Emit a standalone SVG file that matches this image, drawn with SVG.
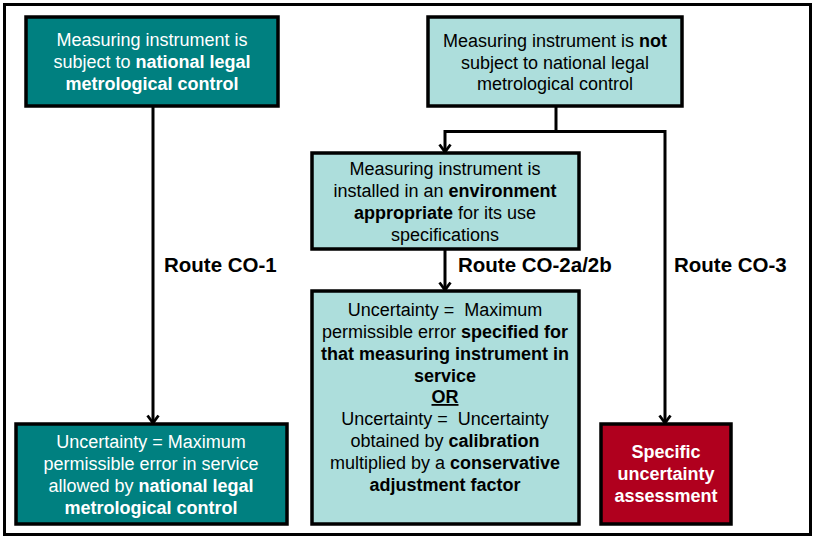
<svg xmlns="http://www.w3.org/2000/svg" width="815" height="540" viewBox="0 0 815 540">
<defs>
<marker id="arr" markerUnits="userSpaceOnUse" markerWidth="12" markerHeight="14" refX="10" refY="7" orient="auto" viewBox="0 0 12 14">
<path d="M2.5,1.5 L10,7 L2.5,12.5" fill="none" stroke="#000" stroke-width="2.8"/>
</marker>
<style>
.box{stroke:#000;stroke-width:3.5}
.teal{fill:#008080}
.light{fill:#ADDEDC}
.red{fill:#B0001E}
.t{font-family:"Liberation Sans",Arial,sans-serif;font-size:18px;text-anchor:middle;white-space:pre}
.w{fill:#fff}
.k{fill:#000}
.b{font-weight:bold}
.route{font-family:"Liberation Sans",Arial,sans-serif;font-size:20.5px;font-weight:bold;fill:#000}
.c{fill:none;stroke:#000;stroke-width:3}
</style>
</defs>
<rect x="0" y="0" width="815" height="540" fill="#fff"/>
<rect x="4.5" y="4.5" width="806" height="530" fill="none" stroke="#000" stroke-width="3"/>

<g id="connectors">
<path class="c" d="M153,107 V423" marker-end="url(#arr)"/>
<path class="c" d="M556,107 V131.5"/>
<path class="c" d="M445,131.5 H665"/>
<path class="c" d="M445,130 V152" marker-end="url(#arr)"/>
<path class="c" d="M665,130 V423" marker-end="url(#arr)"/>
<path class="c" d="M445,250 V290" marker-end="url(#arr)"/>
</g>

<g id="labels">
<text class="route" x="164" y="272">Route CO-1</text>
<text class="route" x="458" y="272">Route CO-2a/2b</text>
<text class="route" x="674" y="272">Route CO-3</text>
</g>

<g id="node-legal">
<rect class="box teal" x="26" y="17" width="252" height="89"/>
<text class="t w" x="152" y="46">Measuring instrument is</text>
<text class="t w" x="152" y="68">subject to <tspan class="b">national legal</tspan></text>
<text class="t w b" x="152" y="90">metrological control</text>
</g>

<g id="node-notlegal">
<rect class="box light" x="428" y="17" width="254" height="89"/>
<text class="t k" x="555" y="47">Measuring instrument is <tspan class="b">not</tspan></text>
<text class="t k" x="555" y="69">subject to national legal</text>
<text class="t k" x="555" y="90">metrological control</text>
</g>

<g id="node-environment">
<rect class="box light" x="312" y="153" width="267" height="96"/>
<text class="t k" x="445" y="175">Measuring instrument is</text>
<text class="t k" x="445" y="197">installed in an <tspan class="b">environment</tspan></text>
<text class="t k" x="445" y="219"><tspan class="b">appropriate</tspan> for its use</text>
<text class="t k" x="445" y="241">specifications</text>
</g>

<g id="node-co2">
<rect class="box light" x="312" y="291" width="267" height="233"/>
<text class="t k" x="445" y="316">Uncertainty =  Maximum</text>
<text class="t k" x="445" y="338">permissible error <tspan class="b">specified for</tspan></text>
<text class="t k b" x="445" y="360">that measuring instrument in</text>
<text class="t k b" x="445" y="382">service</text>
<text class="t k b" x="445" y="403" text-decoration="underline">OR</text>
<text class="t k" x="445" y="425">Uncertainty =  Uncertainty</text>
<text class="t k" x="445" y="447">obtained by <tspan class="b">calibration</tspan></text>
<text class="t k" x="445" y="469">multiplied by a <tspan class="b">conservative</tspan></text>
<text class="t k b" x="445" y="491">adjustment factor</text>
</g>

<g id="node-co1">
<rect class="box teal" x="16" y="424" width="271" height="100"/>
<text class="t w" x="151" y="448">Uncertainty = Maximum</text>
<text class="t w" x="151" y="470">permissible error in service</text>
<text class="t w" x="151" y="492">allowed by <tspan class="b">national legal</tspan></text>
<text class="t w b" x="151" y="514">metrological control</text>
</g>

<g id="node-co3">
<rect class="box red" x="601" y="424" width="130" height="100"/>
<text class="t w b" x="666" y="458">Specific</text>
<text class="t w b" x="666" y="480">uncertainty</text>
<text class="t w b" x="666" y="502">assessment</text>
</g>
</svg>
